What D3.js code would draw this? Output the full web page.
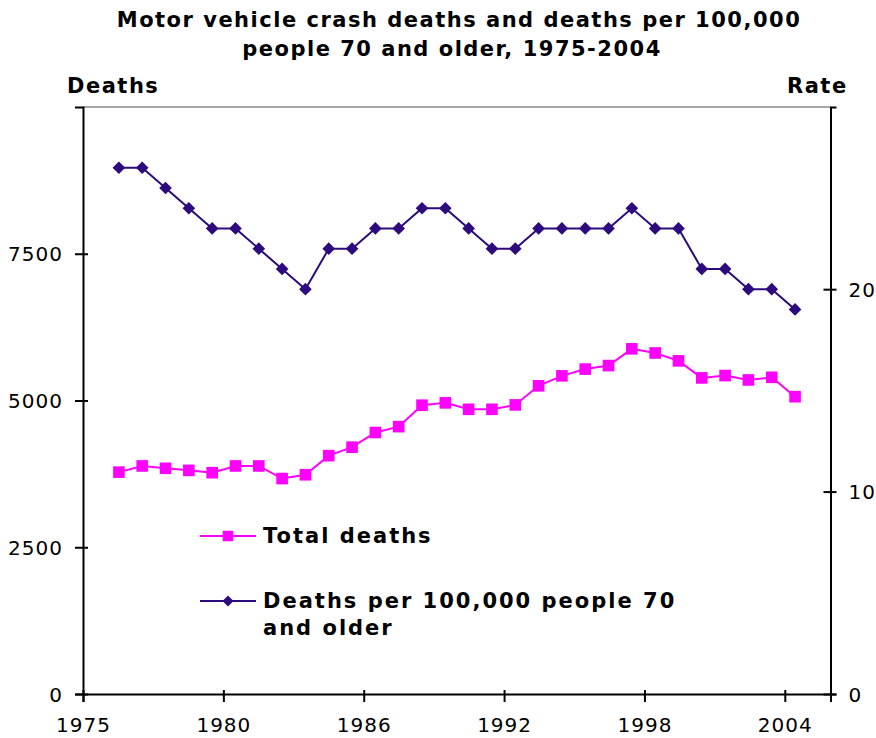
<!DOCTYPE html>
<html>
<head>
<meta charset="utf-8">
<script src="https://cdn.jsdelivr.net/npm/d3@7"></script>
<style>
  body { margin: 0; background: #fff; }
  svg { display: block; }
  text { font-family: "DejaVu Sans", Verdana, sans-serif; fill: #000; }
</style>
</head>
<body>
<div id="viz"></div>
<script>
// data
var years = d3.range(1975, 2005);
var totalDeaths = [3780, 3885, 3845, 3810, 3770, 3885, 3885, 3670, 3735, 4060,
                   4205, 4455, 4555, 4920, 4960, 4850, 4850, 4925, 5250, 5420,
                   5535, 5595, 5880, 5810, 5675, 5385, 5425, 5350, 5395, 5065];
var ratePer100k = [26, 26, 25, 24, 23, 23, 22, 21, 20, 22,
                   22, 23, 23, 24, 24, 23, 22, 22, 23, 23,
                   23, 23, 24, 23, 23, 21, 21, 20, 20, 19];
var xTickLabels = ["1975", "1980", "1986", "1992", "1998", "2004"];
var leftTicks = [0, 2500, 5000, 7500];
var rightTicks = [0, 10, 20];

var W = 876, H = 738;
var L = 83, R = 830.5, T = 107, B = 694;

var svg = d3.select("#viz")
  .append("svg")
  .attr("width", W)
  .attr("height", H);

// odd axis: starts a year and a half before the first point
var xMin = 1973.46, xMax = 2005.52;
var x = d3.scaleLinear().domain([xMin, xMax]).range([L, R]);
var yL = d3.scaleLinear().domain([0, 10000]).range([B, T]);
var yR = d3.scaleLinear().domain([0, 29]).range([B, T]);
var xTicks = xTickLabels.map(function(d, i) { return xMin + i * 6.02; });

function boldText(xp, yp, s, ls) {
  return svg.append("text")
    .attr("x", xp).attr("y", yp)
    .style("font-weight", "bold").style("font-size", "21px")
    .style("letter-spacing", ls + "px")
    .text(s);
}

// title
boldText(459, 27, "Motor vehicle crash deaths and deaths per 100,000", 1.5).attr("text-anchor", "middle");
boldText(452, 56, "people 70 and older, 1975-2004", 1.5).attr("text-anchor", "middle");

boldText(67, 93, "Deaths", 1.5);
boldText(787, 93, "Rate", 1.5);

// top border of plot area
svg.append("line")
  .attr("x1", L).attr("x2", R).attr("y1", T).attr("y2", T)
  .attr("stroke", "#8a8a8a").attr("stroke-width", 1.5);

// axes
var gL = svg.append("g")
  .attr("transform", "translate(" + L + ",0)")
  .call(d3.axisLeft(yL).tickValues(leftTicks).tickFormat(d3.format("d"))
        .tickSizeOuter(0).tickSize(8).tickPadding(12));
var gR = svg.append("g")
  .attr("transform", "translate(" + R + ",0)")
  .call(d3.axisRight(yR).tickValues(rightTicks).tickSizeOuter(0).tickSize(6).tickPadding(12));
var gB = svg.append("g")
  .attr("transform", "translate(0," + B + ")")
  .call(d3.axisBottom(x).tickValues(xTicks).tickFormat(function(d, i) { return xTickLabels[i]; })
        .tickSizeOuter(0).tickSize(8).tickPadding(16));

[gL, gR, gB].forEach(function(g) {
  g.select(".domain").attr("stroke", "#000").attr("stroke-width", 2);
  g.selectAll(".tick line").attr("stroke", "#000").attr("stroke-width", 2);
  g.selectAll(".tick text").style("font-size", "20px").style("letter-spacing", "1px")
    .attr("font-family", null);
});
gL.selectAll(".tick line").attr("x1", 5);
gR.selectAll(".tick line").attr("x1", -7);
gB.selectAll(".tick line").attr("y1", -4);
gL.selectAll(".tick text").attr("dy", "0.36em");
gR.selectAll(".tick text").attr("dy", "0.36em");

// series
var pink = "#ff00ff", navy = "#2d0a7d";

var lineTotal = d3.line()
  .x(function(d, i) { return x(years[i]); })
  .y(function(d) { return yL(d); });
var lineRate = d3.line()
  .x(function(d, i) { return x(years[i]); })
  .y(function(d) { return yR(d); });

svg.append("path")
  .attr("d", lineTotal(totalDeaths))
  .attr("fill", "none").attr("stroke", pink).attr("stroke-width", 2);
svg.append("path")
  .attr("d", lineRate(ratePer100k))
  .attr("fill", "none").attr("stroke", navy).attr("stroke-width", 2);

var sq = d3.symbol().type(d3.symbolSquare).size(135);
var dm = d3.symbol().type(d3.symbolSquare).size(80);

svg.selectAll(".sq").data(totalDeaths).enter().append("path")
  .attr("d", sq)
  .attr("transform", function(d, i) { return "translate(" + x(years[i]) + "," + yL(d) + ")"; })
  .attr("fill", pink);

svg.selectAll(".dm").data(ratePer100k).enter().append("path")
  .attr("d", dm)
  .attr("transform", function(d, i) { return "translate(" + x(years[i]) + "," + yR(d) + ") rotate(45)"; })
  .attr("fill", navy);

// legend
var leg = svg.append("g");
leg.append("line").attr("x1", 200).attr("x2", 256).attr("y1", 536).attr("y2", 536)
  .attr("stroke", pink).attr("stroke-width", 2);
leg.append("path").attr("d", d3.symbol().type(d3.symbolSquare).size(110)())
  .attr("transform", "translate(228,536)").attr("fill", pink);
boldText(263, 543, "Total deaths", 2);

leg.append("line").attr("x1", 200).attr("x2", 256).attr("y1", 601).attr("y2", 601)
  .attr("stroke", navy).attr("stroke-width", 2);
leg.append("path").attr("d", d3.symbol().type(d3.symbolSquare).size(60)())
  .attr("transform", "translate(228,601) rotate(45)").attr("fill", navy);
boldText(263, 608, "Deaths per 100,000 people 70", 2);
boldText(263, 635, "and older", 2);
</script>
</body>
</html>
